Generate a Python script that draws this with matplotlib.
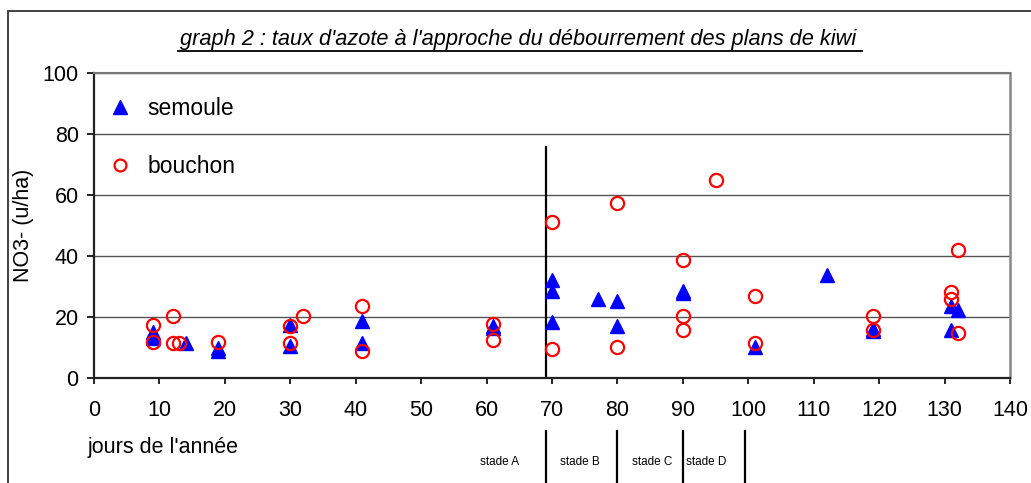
import numpy as np
import matplotlib.pyplot as plt
from matplotlib.patches import Rectangle
import matplotlib.transforms as mtransforms

plt.rcParams['font.family'] = ['Liberation Sans', 'DejaVu Sans']

# semoule (triangles)
semoule_x = [9, 9, 14, 19, 19, 30, 30, 41, 41, 61, 61, 70, 70, 70, 77, 80, 80,
             90, 90, 101, 112, 119, 119, 131, 131, 132]
semoule_y = [15, 13, 11.6, 9.8, 9, 17.4, 10.5, 18.7, 11.4, 16.3, 17, 32.2, 28.4, 18.5, 25.9, 25.1, 17.1,
             28.5, 27.8, 10.3, 33.9, 15.5, 16, 23.5, 15.8, 22.4]

# bouchon (circles)
bouchon_x = [9, 9, 12, 12, 13, 19, 30, 30, 32, 41, 41, 61, 61, 70, 70, 80, 80,
             90, 90, 90, 95, 101, 101, 119, 119, 131, 131, 132, 132]
bouchon_y = [17.5, 11.8, 20.2, 11.6, 11.6, 11.7, 16.9, 11.6, 20.2, 23.5, 8.9, 17.6, 12.3, 51.1, 9.5, 57.5, 10.3,
             38.6, 20.2, 15.6, 64.9, 26.8, 11.6, 20.2, 15.8, 28.1, 26.0, 41.9, 14.9]

# stades
stade_bounds = [69.1, 80, 90, 99.5]
stade_labels = ['stade A', 'stade B', 'stade C', 'stade D']
stade_label_x = [62.0, 74.3, 85.3, 93.6]
stade_line_top = 75.7

fig = plt.figure(figsize=(10.31, 4.83), dpi=100)
ax = fig.add_axes([94/1031, 1 - 378/483, 916/1031, 305/483])

# outer chart border
fig.patches.append(Rectangle((8/1031, -0.1), 1.2, 1 - 11/483 + 0.1, transform=fig.transFigure,
                             fill=False, edgecolor='#333333', linewidth=1.3))

ax.set_xlim(0, 140)
ax.set_ylim(0, 100)
ax.set_xticks(np.arange(0, 141, 10))
ax.set_yticks(np.arange(0, 101, 20))
ax.yaxis.grid(True, color='#555555', linewidth=1)
ax.set_axisbelow(True)

for side in ['left', 'bottom']:
    ax.spines[side].set_color('#222222')
    ax.spines[side].set_linewidth(1.6)
ax.spines['right'].set_color('#888888')
ax.spines['right'].set_linewidth(1.8)
ax.spines['top'].set_color('#777777')
ax.spines['top'].set_linewidth(1.5)

ax.tick_params(axis='y', length=5, width=1.2, pad=6, labelsize=15.5)
ax.tick_params(axis='x', length=4, width=1.2, pad=12, labelsize=15.5)

ax.plot(semoule_x, semoule_y, linestyle='none', marker='^', markersize=10.5,
        color='#0000FF', label='semoule', clip_on=False, zorder=3)
ax.plot(bouchon_x, bouchon_y, linestyle='none', marker='o', markersize=9.5,
        markerfacecolor='none', markeredgecolor='#FF0000', markeredgewidth=1.6,
        label='bouchon', clip_on=False, zorder=4)

ax.plot([stade_bounds[0], stade_bounds[0]], [0, stade_line_top], color='black', linewidth=1.6, zorder=2)

# stage markers below the axis
trans = mtransforms.blended_transform_factory(ax.transData, fig.transFigure)
for b in stade_bounds:
    ax.plot([b, b], [0, 1 - 431/483], transform=trans, color='black', linewidth=1.6, clip_on=False)
for lx, lab in zip(stade_label_x, stade_labels):
    ax.text(lx, 1 - 462/483, lab, transform=trans, fontsize=8.5, ha='center', va='center')

leg = ax.legend(loc='upper left', bbox_to_anchor=(-0.004, 0.98), frameon=False, fontsize=16.5,
                handletextpad=0.7, labelspacing=1.5, handlelength=1.0, borderaxespad=0.4,
                markerscale=0.9)

ax.set_ylabel('NO3- (u/ha)', fontsize=15.5, labelpad=6)
fig.text(88/1031, 1 - 447/483, "jours de l'année", fontsize=15.5, ha='left', va='center')

fig.text(0.5025, 1 - 39.5/483, "graph 2 : taux d'azote à l'approche du débourrement des plans de kiwi",
         fontsize=15.7, style='italic', ha='center', va='center')
# underline the title
fig.add_artist(plt.Line2D([178/1031, 862/1031], [1 - 51/483, 1 - 51/483], color='black', linewidth=1.3))

fig.savefig('out.png', dpi=100)
